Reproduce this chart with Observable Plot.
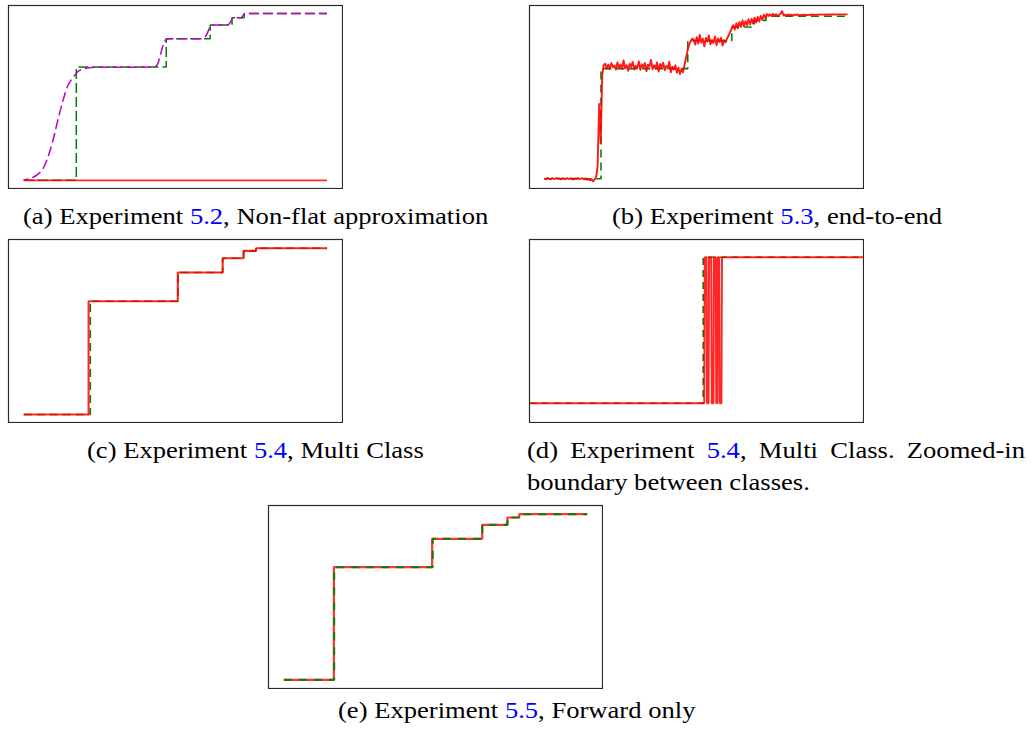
<!DOCTYPE html>
<html><head><meta charset="utf-8">
<script src="https://cdn.jsdelivr.net/npm/d3@7"></script>
<script src="https://cdn.jsdelivr.net/npm/@observablehq/plot@0.6"></script>
<style>
html,body{margin:0;padding:0;background:#fff;}
#fig{position:relative;width:1034px;height:736px;overflow:hidden;background:#fff;}
.panel{position:absolute;}
.panel svg{display:block;}
.cap{position:absolute;font-family:"Liberation Serif","Times New Roman",serif;font-size:24px;line-height:24px;white-space:nowrap;color:#000;transform:scaleX(1.108);transform-origin:0 0;}
.ref{color:#0000ff;}
</style></head><body><div id="fig"></div>
<script>
// ---------- Panel (a): Experiment 5.2, Non-flat approximation ----------
const aGreenX = [0, 0.1734, 0.470, 0.615, 0.687, 0.727, 1];
const aGreenY = [0, 0.679, 0.849, 0.931, 0.975, 1, 1];
const aRedX = [0, 1];
const aRedY = [0, 0];
const aMagX = [0, 0.046, 0.063, 0.079, 0.096, 0.112, 0.129, 0.145, 0.162, 0.178, 0.2, 0.227, 0.43, 0.44, 0.448, 0.456, 0.463, 0.469, 0.479, 0.584, 0.598, 0.606, 0.613, 0.621, 0.631, 0.674, 0.682, 0.688, 0.697, 0.716, 0.723, 0.731, 1];
const aMagY = [0, 0.036, 0.066, 0.135, 0.236, 0.356, 0.475, 0.565, 0.615, 0.651, 0.669, 0.677, 0.679, 0.691, 0.733, 0.787, 0.826, 0.844, 0.849, 0.849, 0.859, 0.884, 0.914, 0.929, 0.931, 0.931, 0.949, 0.970, 0.975, 0.975, 0.988, 1, 1];

// ---------- Panel (b): Experiment 5.3, end-to-end ----------
const bGreenX = [0, 0.187, 0.473, 0.618, 0.692, 0.731, 1];
const bGreenY = [0, 0.678, 0.85, 0.934, 0.975, 1, 1];
const bRedY = [
  0.002, -0.003, 0.004, 0.000, -0.004, 0.003, 0.001, -0.002, 0.005, -0.001,
  0.002, -0.004, 0.003, 0.000, -0.003, 0.004, -0.002, 0.001, 0.003, -0.005,
  0.002, -0.001, 0.004, -0.003, 0.000, 0.003, -0.004, 0.002, -0.006, -0.002,
  -0.010, -0.004, -0.016, -0.006,
  0.010, 0.080, 0.460, 0.220, 0.640, 0.700,
  0.708, 0.679, 0.703, 0.675, 0.712, 0.686, 0.697, 0.672, 0.716, 0.683,
  0.704, 0.676, 0.728, 0.679, 0.699, 0.665, 0.708, 0.688, 0.719, 0.673,
  0.696, 0.681, 0.722, 0.670, 0.705, 0.686, 0.713, 0.662, 0.702, 0.690,
  0.731, 0.675, 0.698, 0.678, 0.716, 0.659, 0.707, 0.686, 0.714, 0.668,
  0.694, 0.680, 0.720, 0.655, 0.690, 0.673, 0.698, 0.652, 0.684, 0.645,
  0.676, 0.655,
  0.700, 0.745, 0.790, 0.825, 0.846, 0.862,
  0.858, 0.826, 0.872, 0.832, 0.885, 0.838, 0.862, 0.815, 0.867, 0.844,
  0.882, 0.828, 0.853, 0.836, 0.876, 0.822, 0.863, 0.842, 0.868, 0.820,
  0.852, 0.840,
  0.865, 0.882, 0.905, 0.925, 0.945, 0.918, 0.958, 0.926, 0.965, 0.935,
  0.975, 0.940, 0.970, 0.945, 0.982, 0.950, 0.985, 0.955, 0.992, 0.962,
  0.996, 0.968, 1.002, 0.978, 1.010, 0.990, 1.014, 1.002,
  1.012, 1.002, 1.015, 1.004, 1.013, 1.001, 1.010, 1.016, 1.032, 1.005,
  1.011, 1.003, 1.012, 1.006, 1.010, 1.004, 1.011, 1.007, 1.012, 1.005,
  1.009, 1.007, 1.010, 1.008, 1.009, 1.007, 1.010, 1.008, 1.011, 1.009,
  1.010, 1.009, 1.011, 1.010, 1.012, 1.010, 1.011, 1.010, 1.012, 1.011,
  1.012, 1.011, 1.012, 1.011, 1.012, 1.012, 1.012, 1.012, 1.012, 1.012,
  1.012, 1.012
];

// ---------- Panel (c): Experiment 5.4, Multi Class ----------
const cGreenX = [0, 0.2196, 0.509, 0.656, 0.725, 0.766, 1];
const cRedX = [0, 0.214, 0.508, 0.656, 0.725, 0.766, 1];
const cLevels = [0, 0.681, 0.854, 0.94, 0.984, 1, 1];

// ---------- Panel (d): Multi Class, zoomed-in boundary ----------
const dGreenX = [0, 52.0, 100];
const dGreenY = [0, 1, 1];
const dRedX = [0, 52.32, 52.48, 53.0, 53.16, 53.6, 53.76, 54.4, 54.58, 55.07, 55.23, 55.76, 55.92, 56.2, 56.38, 56.75, 56.91, 57.45, 57.62, 100];
const dRedY = [0, 0, 1, 1, 0, 0, 1, 1, 0, 0, 1, 1, 0, 0, 1, 1, 0, 0, 1, 1];

// ---------- Panel (e): Experiment 5.5, Forward only ----------
const eGreenX = [0, 0.166, 0.491, 0.654, 0.737, 0.776, 1];
const eRedX = [0, 0.165, 0.489, 0.654, 0.737, 0.776, 1];
const eLevels = [0, 0.68, 0.851, 0.936, 0.98, 1, 1];

// ---------- Captions ----------
const captions = [
  {pre: "(a) Experiment ", ref: "5.2", post: ", Non-flat approximation"},
  {pre: "(b) Experiment ", ref: "5.3", post: ", end-to-end"},
  {pre: "(c) Experiment ", ref: "5.4", post: ", Multi Class"},
  {pre: "(d) Experiment ", ref: "5.4", post: ", Multi Class.  Zoomed-in"},
  {pre: "boundary between classes.", ref: "", post: ""},
  {pre: "(e) Experiment ", ref: "5.5", post: ", Forward only"}
];

// ---------- helpers ----------
const fig = document.getElementById("fig");
const pts = (xs, ys) => xs.map((x, i) => ({x, y: ys[i]}));
const GREEN = "#008000", RED = "#ff0000", MAG = "#bf00bf";
const SX = 1.108;

function line(data, o) {
  return Plot.line(data, Object.assign({x: "x", y: "y", strokeLinecap: "butt", strokeLinejoin: "miter", clip: true}, o));
}

function panel(box, xDomain, yDomain, marks) {
  const svg = Plot.plot({
    width: box.w + 2, height: box.h + 2, margin: 1,
    x: {domain: xDomain, axis: null},
    y: {domain: yDomain, axis: null},
    marks: [...marks, Plot.frame({stroke: "#2a2a2a", strokeWidth: 1.2})]
  });
  const div = document.createElement("div");
  div.className = "panel";
  div.style.left = (box.left - 1) + "px";
  div.style.top = (box.top - 1) + "px";
  div.style.width = (box.w + 2) + "px";
  div.appendChild(svg);
  fig.appendChild(div);
}

// (a)
panel({left: 7.5, top: 4.5, w: 334, h: 183}, [-0.0501, 1.0511], [-0.049, 1.048], [
  line(pts(aGreenX, aGreenY), {curve: "step-after", stroke: GREEN, strokeWidth: 1.5, strokeDasharray: "10,4"}),
  line(pts(aMagX, aMagY), {curve: "monotone-x", stroke: MAG, strokeWidth: 1.5, strokeDasharray: "10,4", strokeDashoffset: 5}),
  line(pts(aRedX, aRedY), {stroke: RED, strokeWidth: 1.8, strokeOpacity: 0.85})
]);

// (b)
const bRed = bRedY.map((y, i) => ({x: i / (bRedY.length - 1), y}));
panel({left: 528.5, top: 4.5, w: 334, h: 183}, [-0.0488, 1.0524], [-0.0603, 1.0665], [
  line(pts(bGreenX, bGreenY), {curve: "step-after", stroke: GREEN, strokeWidth: 1.6, strokeDasharray: "8,5"}),
  line(bRed, {stroke: RED, strokeWidth: 1.9, strokeOpacity: 0.9, strokeLinejoin: "round"})
]);

// (c)
panel({left: 7.5, top: 239, w: 334, h: 183}, [-0.0501, 1.0511], [-0.0481, 1.0523], [
  line(pts(cGreenX, cLevels), {curve: "step-after", stroke: GREEN, strokeWidth: 1.6, strokeDasharray: "8,5"}),
  line(pts(cRedX, cLevels), {curve: "step-after", stroke: RED, strokeWidth: 2.1, strokeOpacity: 0.85})
]);

// (d)
panel({left: 528.5, top: 239, w: 334, h: 183}, [0, 100], [-0.1322, 1.1212], [
  line(pts(dGreenX, dGreenY), {curve: "step-after", stroke: GREEN, strokeWidth: 1.6, strokeDasharray: "7,5"}),
  line(pts(dRedX, dRedY), {stroke: RED, strokeWidth: 2, strokeOpacity: 0.85})
]);

// (e)
panel({left: 268, top: 505, w: 334, h: 183}, [-0.0504, 1.0504], [-0.0525, 1.0525], [
  line(pts(eRedX, eLevels), {curve: "step-after", stroke: RED, strokeWidth: 2.2, strokeOpacity: 0.8}),
  line(pts(eGreenX, eLevels), {curve: "step-after", stroke: GREEN, strokeWidth: 2.2, strokeDasharray: "8,7", strokeOpacity: 0.85})
]);

// captions
const capPos = [
  {left: 22.7, top: 203.9},
  {left: 612, top: 203.9},
  {left: 87, top: 438.2},
  {left: 527, top: 438.2, justify: 498},
  {left: 527, top: 469.9},
  {left: 338, top: 698.2}
];
captions.forEach((c, i) => {
  const p = capPos[i];
  const d = document.createElement("div");
  d.className = "cap";
  d.style.left = p.left + "px";
  d.style.top = p.top + "px";
  d.appendChild(document.createTextNode(c.pre));
  if (c.ref) {
    const s = document.createElement("span");
    s.className = "ref";
    s.textContent = c.ref;
    d.appendChild(s);
  }
  if (c.post) d.appendChild(document.createTextNode(c.post));
  if (p.justify) {
    d.style.whiteSpace = "normal";
    d.style.width = (p.justify / SX) + "px";
    d.style.textAlign = "justify";
    d.style.textAlignLast = "justify";
  }
  fig.appendChild(d);
});
</script></body></html>
